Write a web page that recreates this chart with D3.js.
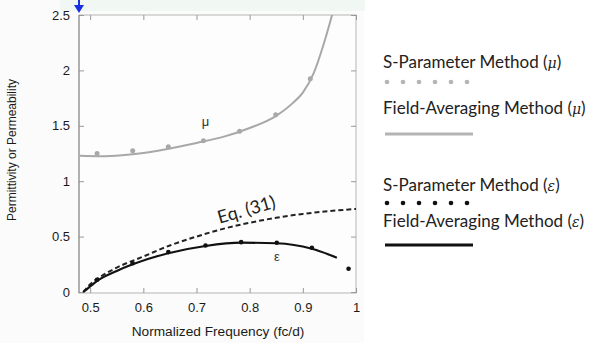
<!DOCTYPE html>
<html>
<head>
<meta charset="utf-8">
<script src="https://cdn.jsdelivr.net/npm/d3@7"></script>
<style>
  body { margin: 0; background: #fff; }
  svg { display: block; }
</style>
</head>
<body>
<div id="chart"></div>
<script>
// values
const muDotsX = [0.513, 0.58, 0.647, 0.713, 0.781, 0.849, 0.914];
const muDotsY = [1.25, 1.275, 1.31, 1.365, 1.45, 1.6, 1.925];
const muLineX = [0.48, 0.52, 0.56, 0.6, 0.65, 0.7, 0.75, 0.8, 0.85, 0.88, 0.9, 0.92, 0.94, 0.955, 0.962];
const muLineY = [1.23, 1.226, 1.235, 1.255, 1.295, 1.345, 1.4, 1.48, 1.59, 1.7, 1.8, 1.97, 2.25, 2.5, 2.62];
const epsDotsX = [0.513, 0.58, 0.647, 0.717, 0.784, 0.851, 0.917, 0.986];
const epsDotsY = [0.11, 0.26, 0.36, 0.42, 0.45, 0.445, 0.40, 0.21];
const epsLineX = [0.487, 0.5, 0.513, 0.55, 0.58, 0.647, 0.717, 0.784, 0.851, 0.917, 0.964];
const epsLineY = [0, 0.05, 0.1, 0.19, 0.25, 0.35, 0.415, 0.445, 0.44, 0.39, 0.31];
const eqLineX = [0.487, 0.5, 0.52, 0.55, 0.6, 0.65, 0.7, 0.75, 0.8, 0.85, 0.9, 0.95, 1.0];
const eqLineY = [0, 0.07, 0.14, 0.22, 0.32, 0.42, 0.5, 0.57, 0.625, 0.67, 0.705, 0.73, 0.75];
const xTicks = [0.5, 0.6, 0.7, 0.8, 0.9, 1];
const yTicks = [0, 0.5, 1, 1.5, 2, 2.5];
const legendLabels = ['S-Parameter Method (', 'Field-Averaging Method (', 'S-Parameter Method (', 'Field-Averaging Method ('];
const legendSymbols = ['\u03BC', '\u03BC', '\u03B5', '\u03B5'];

const width = 592, height = 343;
const svg = d3.select('#chart').append('svg')
  .attr('width', width).attr('height', height);

// faint backdrop of the pasted figure
svg.append('rect').attr('x', 0).attr('y', 0).attr('width', 364).attr('height', height).attr('fill', '#fbfbfb');
svg.append('rect').attr('x', 60).attr('y', 0).attr('width', 305).attr('height', 11).attr('fill', '#f1f7f3');

const plot = { left: 79, right: 356, top: 15, bottom: 293 };
const x = d3.scaleLinear().domain([0.479, 1.0]).range([plot.left, plot.right]);
const y = d3.scaleLinear().domain([0, 2.5]).range([plot.bottom - 1, plot.top]);

svg.append('rect')
  .attr('x', plot.left).attr('y', plot.top)
  .attr('width', plot.right - plot.left).attr('height', plot.bottom - plot.top)
  .attr('fill', '#fdfdfd').attr('stroke', '#b5b5b5').attr('stroke-width', 1);

const tickFont = 'Liberation Sans, Arial, sans-serif';

// axes (ticks inward, mirrored)
const axB = svg.append('g').attr('transform', `translate(0,${plot.bottom})`)
  .call(d3.axisBottom(x).tickValues(xTicks).tickSize(-5).tickPadding(10).tickFormat(d3.format('')));
const axT = svg.append('g').attr('transform', `translate(0,${plot.top})`)
  .call(d3.axisTop(x).tickValues(xTicks).tickSize(-5).tickFormat(''));
const axL = svg.append('g').attr('transform', `translate(${plot.left},0)`)
  .call(d3.axisLeft(y).tickValues(yTicks).tickSize(5).tickPadding(4).tickFormat(d3.format('')));
const axR = svg.append('g').attr('transform', `translate(${plot.right},0)`)
  .call(d3.axisRight(y).tickValues(yTicks).tickSize(-5).tickFormat(''));
[axB, axT, axL, axR].forEach(g => {
  g.select('.domain').remove();
  g.selectAll('line').attr('stroke', '#999');
  g.selectAll('text').attr('font-family', tickFont).attr('font-size', 13).attr('fill', '#1a1a1a');
});
axL.selectAll('line').attr('x2', 5).attr('x1', 0);
svg.append('line').attr('x1', plot.left).attr('x2', plot.left)
  .attr('y1', plot.top).attr('y2', plot.bottom).attr('stroke', '#888');

svg.append('text').attr('x', 218).attr('y', 336).attr('text-anchor', 'middle')
  .attr('font-family', tickFont).attr('font-size', 13.7).attr('fill', '#1a1a1a')
  .text('Normalized Frequency (fc/d)');
svg.append('text').attr('transform', 'translate(16,150) rotate(-90)').attr('text-anchor', 'middle')
  .attr('font-family', tickFont).attr('font-size', 12).attr('fill', '#1a1a1a')
  .text('Permittivity or Permeability');

svg.append('clipPath').attr('id', 'clip').append('rect')
  .attr('x', plot.left).attr('y', plot.top).attr('width', plot.right - plot.left).attr('height', plot.bottom - plot.top);

const line = d3.line().x(d => x(d[0])).y(d => y(d[1])).curve(d3.curveMonotoneX);
const zip = (a, b) => a.map((v, i) => [v, b[i]]);

const g = svg.append('g').attr('clip-path', 'url(#clip)');
g.append('path').datum(zip(muLineX, muLineY)).attr('d', line)
  .attr('fill', 'none').attr('stroke', '#a8a8a8').attr('stroke-width', 2);
g.append('path').datum(zip(eqLineX, eqLineY)).attr('d', line)
  .attr('fill', 'none').attr('stroke', '#222').attr('stroke-width', 2).attr('stroke-dasharray', '5,3');
g.append('path').datum(zip(epsLineX, epsLineY)).attr('d', line)
  .attr('fill', 'none').attr('stroke', '#111').attr('stroke-width', 2.2);

g.selectAll('.mu-dot').data(zip(muDotsX, muDotsY)).enter().append('circle')
  .attr('cx', d => x(d[0])).attr('cy', d => y(d[1])).attr('r', 2.5).attr('fill', '#a8a8a8');
g.selectAll('.eps-dot').data(zip(epsDotsX, epsDotsY)).enter().append('circle')
  .attr('cx', d => x(d[0])).attr('cy', d => y(d[1])).attr('r', 2.3).attr('fill', '#111');

svg.append('text').attr('x', x(0.717)).attr('y', y(1.5)).attr('text-anchor', 'middle')
  .attr('font-family', tickFont).attr('font-size', 13).attr('fill', '#333').text('\u03BC');
svg.append('text').attr('x', x(0.851)).attr('y', y(0.28)).attr('text-anchor', 'middle')
  .attr('font-family', tickFont).attr('font-size', 13).attr('fill', '#333').text('\u03B5');
svg.append('text').attr('transform', `translate(${x(0.797)},${y(0.69)}) rotate(-16)`)
  .attr('text-anchor', 'middle').attr('font-family', 'Lato, Open Sans, sans-serif')
  .attr('font-size', 18).attr('fill', '#222').text('Eq. (31)');

// blue arrow marker above the origin
svg.append('path').attr('d', `M${plot.left},0 L${plot.left},8`).attr('stroke', '#1a2fe0').attr('stroke-width', 2);
svg.append('path').attr('d', `M${plot.left - 5},5 L${plot.left + 5},5 L${plot.left},13 Z`).attr('fill', '#1a2fe0');

// legend
const legY = [68, 114, 191, 227];
const leg = svg.append('g').attr('font-family', 'Lato, Open Sans, sans-serif').attr('font-size', 17).attr('fill', '#222');
legendLabels.forEach((t, i) => {
  const txt = leg.append('text').attr('x', 383).attr('y', legY[i]);
  txt.append('tspan').text(t);
  txt.append('tspan').attr('font-style', 'italic').attr('font-family', 'DejaVu Serif, serif').attr('font-size', 14).text(legendSymbols[i]);
  txt.append('tspan').text(')');
});
const dotXs = d3.range(6).map(i => 387 + i * 16);
leg.selectAll('.lmu').data(dotXs).enter().append('circle')
  .attr('cx', d => d).attr('cy', 82).attr('r', 2.3).attr('fill', '#b4b4b4');
leg.selectAll('.leps').data(dotXs).enter().append('circle')
  .attr('cx', d => d).attr('cy', 203).attr('r', 2.3).attr('fill', '#111');
leg.append('line').attr('x1', 385).attr('x2', 473).attr('y1', 134).attr('y2', 134)
  .attr('stroke', '#b4b4b4').attr('stroke-width', 3);
leg.append('line').attr('x1', 385).attr('x2', 473).attr('y1', 245).attr('y2', 245)
  .attr('stroke', '#111').attr('stroke-width', 3);
</script>
</body>
</html>
